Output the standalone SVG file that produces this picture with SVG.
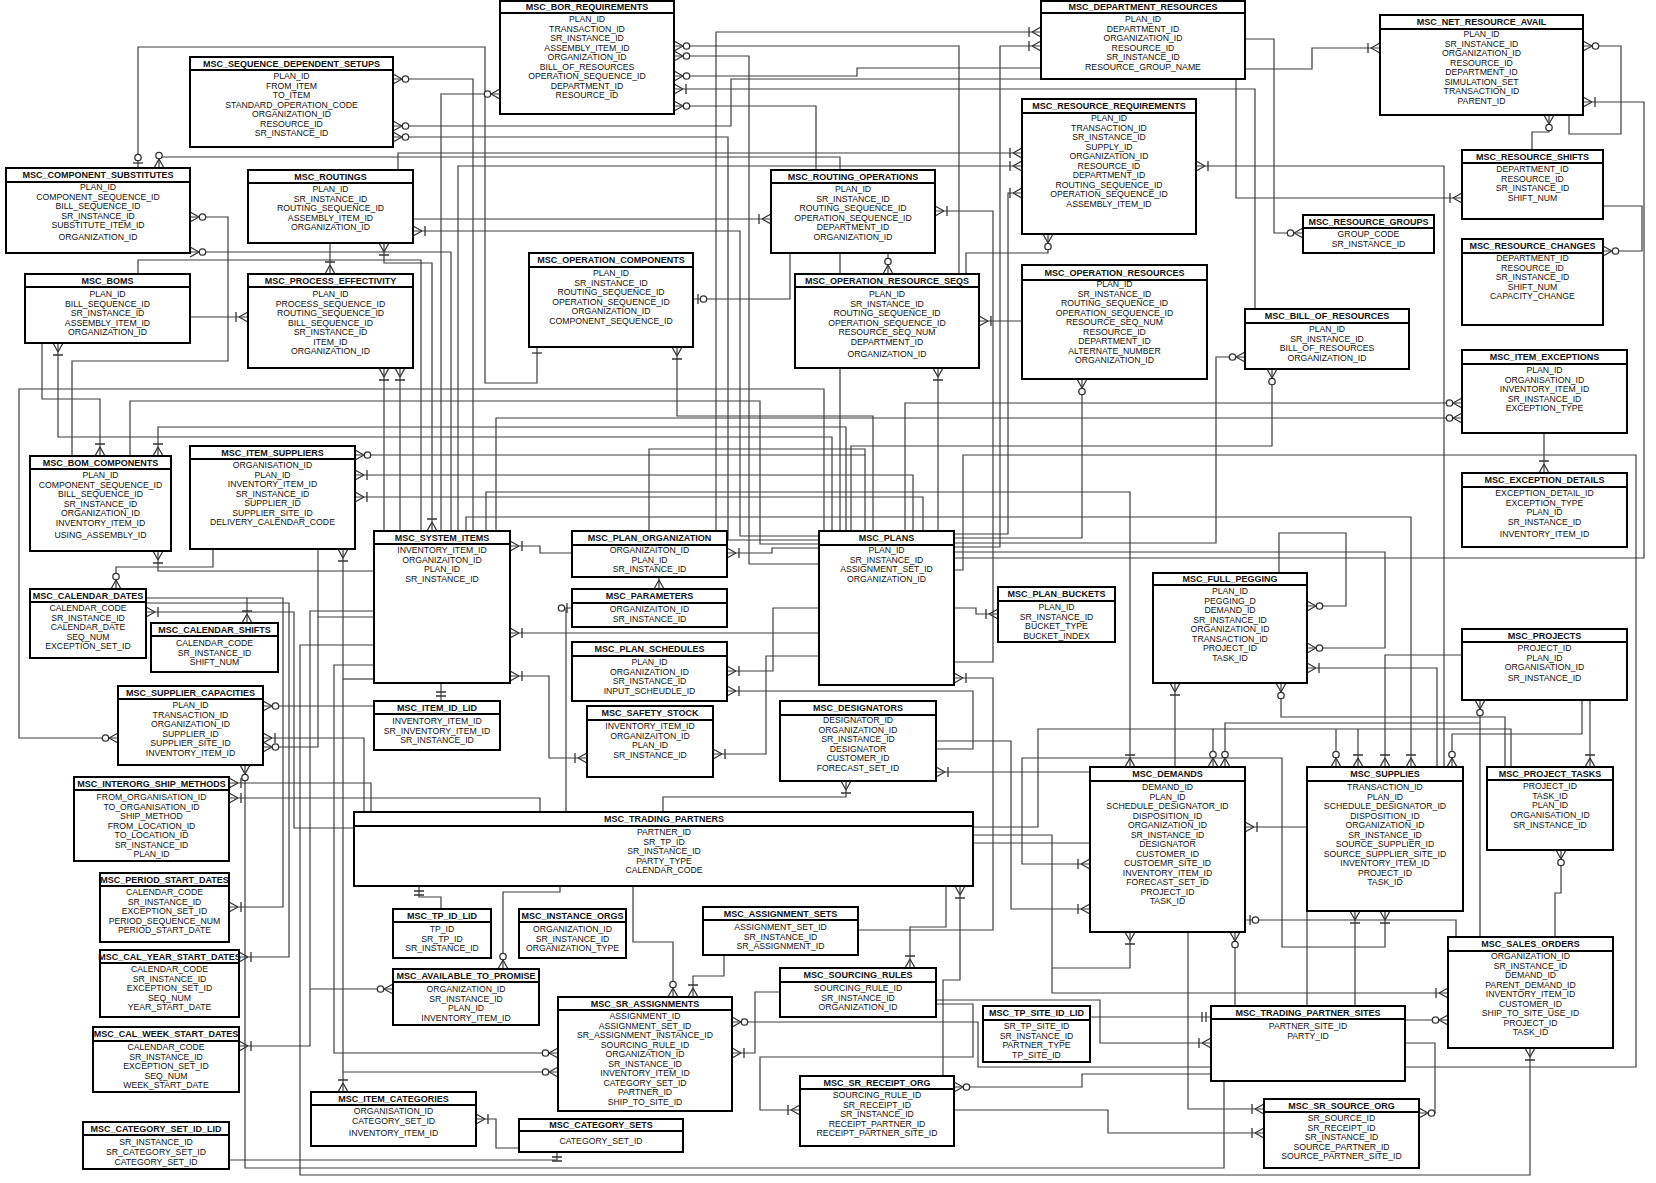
<svg xmlns="http://www.w3.org/2000/svg" width="1656" height="1183" viewBox="0 0 1656 1183">
<style>
.n rect{fill:#fff;stroke:#000;stroke-width:2}
.n line{stroke:#000;stroke-width:2}
.n text{font-family:"Liberation Sans",Arial,sans-serif;text-anchor:middle;fill:#111}
.t{font-size:9px;font-weight:bold}
.f{font-size:8.7px}
.c path{fill:none;stroke:#3c3c3c;stroke-width:1.2}
.m{fill:none;stroke:#333;stroke-width:1.3}
.mc{fill:#fff;stroke:#333;stroke-width:1.3}
</style>
<defs>
<marker id="mb" viewBox="-17 -8 18 16" refX="0" refY="0" markerWidth="18" markerHeight="16" markerUnits="userSpaceOnUse" orient="auto-start-reverse"><path class="m" d="M-9 0L0 -5M-9 0L0 5M-12 -5V5"/></marker>
<marker id="mo" viewBox="-17 -8 18 16" refX="0" refY="0" markerWidth="18" markerHeight="16" markerUnits="userSpaceOnUse" orient="auto-start-reverse"><path class="m" d="M-9 0L0 -5M-9 0L0 5"/><circle class="mc" cx="-12.5" cy="0" r="3.2"/></marker>
<marker id="zo" viewBox="-17 -8 18 16" refX="0" refY="0" markerWidth="18" markerHeight="16" markerUnits="userSpaceOnUse" orient="auto-start-reverse"><path class="m" d="M-5 -5V5"/><circle class="mc" cx="-10.5" cy="0" r="3.2"/></marker>
<marker id="oo" viewBox="-17 -8 18 16" refX="0" refY="0" markerWidth="18" markerHeight="16" markerUnits="userSpaceOnUse" orient="auto-start-reverse"><path class="m" d="M-5 -5V5M-9 -5V5"/></marker>
<marker id="b1" viewBox="-17 -8 18 16" refX="0" refY="0" markerWidth="18" markerHeight="16" markerUnits="userSpaceOnUse" orient="auto-start-reverse"><path class="m" d="M-6 -5V5"/></marker>
</defs>
<rect width="1656" height="1183" fill="#fff"/>
<g id="connectors" class="c">
<path d="M537 347V383H485V47H138V168" marker-start="url(#b1)" marker-end="url(#zo)"/>
<path d="M840 170V157H159V168" marker-end="url(#mo)"/>
<path d="M473 531V79H393" marker-end="url(#mo)"/>
<path d="M1041 79H731V126H393" marker-end="url(#mo)"/>
<path d="M819 540H728V137H393" marker-end="url(#mo)"/>
<path d="M441 531V94H500" marker-end="url(#mo)"/>
<path d="M413 219H771" marker-end="url(#mb)"/>
<path d="M819 536H740V231H413" marker-end="url(#mb)"/>
<path d="M72 456V361H228V217H190" marker-end="url(#mo)"/>
<path d="M451 531V252H190" marker-end="url(#mo)"/>
<path d="M384 243V263H432V531" marker-start="url(#mb)" marker-end="url(#mb)"/>
<path d="M138 274V260H421V531"/>
<path d="M330 243V274" marker-end="url(#mb)"/>
<path d="M959 274V46H674" marker-end="url(#mo)"/>
<path d="M819 564H749V56H674" marker-end="url(#mo)"/>
<path d="M1041 68H857V76H674" marker-end="url(#mo)"/>
<path d="M1255 309V89H674" marker-end="url(#mb)"/>
<path d="M816 170V106H674" marker-end="url(#mo)"/>
<path d="M716 531V32H1041" marker-end="url(#mb)"/>
<path d="M954 547H1000V46H1041" marker-end="url(#mb)"/>
<path d="M398 170V153H1022" marker-end="url(#mb)"/>
<path d="M458 531V166H1022" marker-end="url(#mb)"/>
<path d="M954 534H1008V193H1022" marker-end="url(#mb)"/>
<path d="M888 253V274" marker-end="url(#mo)"/>
<path d="M840 253V274M840 368V531"/>
<path d="M790 253V299H693" marker-end="url(#zo)"/>
<path d="M954 662H993V211H935" marker-end="url(#mb)"/>
<path d="M966 274V253H1048V234" marker-end="url(#mo)"/>
<path d="M1444 767V166H1196" marker-end="url(#mb)"/>
<path d="M1245 39H1274V233H1303" marker-end="url(#mo)"/>
<path d="M1245 69H1312V48H1380" marker-end="url(#mb)"/>
<path d="M1569 115V134H1621V46H1583" marker-end="url(#mo)"/>
<path d="M954 558H1644V102H1583" marker-end="url(#mb)"/>
<path d="M1532 150V132H1549V115" marker-end="url(#mo)"/>
<path d="M1603 206H1642V251H1603" marker-end="url(#mo)"/>
<path d="M1236 79V198H1462" marker-end="url(#mb)"/>
<path d="M190 317H248" marker-end="url(#mb)"/>
<path d="M58 343V437H832V531" marker-start="url(#mb)"/>
<path d="M42 343V399H100V456" marker-end="url(#mb)"/>
<path d="M824 531V389H19V738H118" marker-end="url(#mo)"/>
<path d="M130 456V401H760V544H819"/>
<path d="M846 531V427H158V456" marker-end="url(#mb)"/>
<path d="M374 571H158V551" marker-end="url(#mb)"/>
<path d="M213 549V567H116V589" marker-end="url(#mo)"/>
<path d="M865 531V455H355" marker-end="url(#mo)"/>
<path d="M913 531V475H355" marker-end="url(#mb)"/>
<path d="M923 531V497H355" marker-end="url(#mb)"/>
<path d="M343 549V1092" marker-start="url(#mb)" marker-end="url(#mb)"/>
<path d="M374 617H318V747H263" marker-end="url(#mo)"/>
<path d="M318 549V617"/>
<path d="M384 531V368" marker-end="url(#mb)"/>
<path d="M400 531V368" marker-end="url(#mb)"/>
<path d="M572 553H540V546H510" marker-end="url(#mb)"/>
<path d="M873 531V416H677V347" marker-end="url(#mb)"/>
<path d="M1022 321H979" marker-end="url(#mb)"/>
<path d="M938 531V368" marker-end="url(#mb)"/>
<path d="M954 538H1082V379" marker-end="url(#mo)"/>
<path d="M819 548H772V553H727" marker-end="url(#mb)"/>
<path d="M659 577V589" marker-end="url(#mb)"/>
<path d="M566 812V608H572" marker-end="url(#zo)"/>
<path d="M819 633H510" marker-end="url(#mb)"/>
<path d="M819 608H773V671H727" marker-end="url(#mb)"/>
<path d="M819 656H766V754H713" marker-end="url(#mb)"/>
<path d="M936 749H973V691H727" marker-end="url(#mb)"/>
<path d="M510 676H549V758H587" marker-start="url(#mb)" marker-end="url(#mb)"/>
<path d="M954 608H976V614H998" marker-end="url(#mb)"/>
<path d="M858 930H993V678H954" marker-end="url(#mb)"/>
<path d="M936 741H1011V909H1090" marker-end="url(#mb)"/>
<path d="M1090 772H936" marker-end="url(#mb)"/>
<path d="M663 812V797H846V781" marker-end="url(#mb)"/>
<path d="M973 827H1038V729H1213V767" marker-end="url(#mo)"/>
<path d="M1213 729H1511V767"/>
<path d="M973 835H1052V968H1130V932" marker-end="url(#mb)"/>
<path d="M973 843H1090"/>
<path d="M1090 864H1022V758H1282V947H1385V911" marker-start="url(#mb)" marker-end="url(#mb)"/>
<path d="M1279 573V533H1346V606H1307" marker-end="url(#mo)"/>
<path d="M954 552H1385V648H1307" marker-end="url(#mo)"/>
<path d="M1462 655H1385V767" marker-end="url(#mb)"/>
<path d="M1437 767V668H1307" marker-end="url(#mb)"/>
<path d="M1175 767V683" marker-end="url(#mb)"/>
<path d="M1505 767V717H1281V683" marker-end="url(#mo)"/>
<path d="M1480 937V700" marker-end="url(#mo)"/>
<path d="M1480 723H1225V767" marker-end="url(#mo)"/>
<path d="M1582 700V734H1452V767" marker-end="url(#mo)"/>
<path d="M1590 700V767" marker-end="url(#mb)"/>
<path d="M1336 729V767" marker-end="url(#mo)"/>
<path d="M1358 729V767" marker-end="url(#mb)"/>
<path d="M466 531V517H1411V767" marker-end="url(#mb)"/>
<path d="M486 531V492H1130V767" marker-end="url(#mb)"/>
<path d="M1307 827H1245" marker-end="url(#mb)"/>
<path d="M1456 937V920H1245" marker-end="url(#zo)"/>
<path d="M1235 1006V932" marker-end="url(#mo)"/>
<path d="M1188 932V1109H1264" marker-end="url(#mb)"/>
<path d="M1355 1006V911" marker-end="url(#mb)"/>
<path d="M1307 911V1006"/>
<path d="M1052 968V993H1448" marker-end="url(#mb)"/>
<path d="M1405 1020H1448" marker-end="url(#mo)"/>
<path d="M1090 1017H1211" marker-end="url(#oo)"/>
<path d="M936 1000H1100V1043H1211" marker-end="url(#mb)"/>
<path d="M1211 1067H978V1022H732" marker-end="url(#mo)"/>
<path d="M1211 1074H1082V1087H954" marker-end="url(#mo)"/>
<path d="M1405 1043H1435V1113H1419" marker-end="url(#mo)"/>
<path d="M1405 1067H1636V455H963V570H954"/>
<path d="M245 765V1168H1224V1081" marker-start="url(#mo)"/>
<path d="M374 645H300V1175H1530V1048" marker-end="url(#mb)"/>
<path d="M954 1110H1108V1133H1264" marker-end="url(#mb)"/>
<path d="M1555 937V893H1561V850" marker-end="url(#mo)"/>
<path d="M960 886V980H943V1076" marker-start="url(#mb)"/>
<path d="M946 886V927H910V968" marker-end="url(#mb)"/>
<path d="M633 886V942H673V997" marker-end="url(#mo)"/>
<path d="M724 955V976H693V997" marker-end="url(#mb)"/>
<path d="M780 992H755V1053H732" marker-end="url(#mb)"/>
<path d="M936 1004H973V1057H760V1110H800" marker-end="url(#mb)"/>
<path d="M374 665H334V1053H558" marker-end="url(#mo)"/>
<path d="M343 1072H558" marker-end="url(#mo)"/>
<path d="M519 1148H496V1119H476" marker-end="url(#mb)"/>
<path d="M229 1160H557V1152" marker-end="url(#oo)"/>
<path d="M560 886V892H503V969" marker-end="url(#mo)"/>
<path d="M441 909V897H419V886" marker-end="url(#oo)"/>
<path d="M146 598H283V907H229" marker-end="url(#mb)"/>
<path d="M146 603H289V957H239" marker-end="url(#mb)"/>
<path d="M374 611H310V1046H239" marker-end="url(#mb)"/>
<path d="M310 989H393" marker-end="url(#mo)"/>
<path d="M354 828H294V612H146" marker-end="url(#mb)"/>
<path d="M247 598V623" marker-end="url(#mb)"/>
<path d="M371 812V783H229" marker-end="url(#mb)"/>
<path d="M540 812V798H229" marker-end="url(#mb)"/>
<path d="M374 706H263" marker-end="url(#mo)"/>
<path d="M364 812V738H263" marker-end="url(#mb)"/>
<path d="M441 683V701" marker-end="url(#oo)"/>
<path d="M374 679H343"/>
<path d="M649 531V449H865V455"/>
<path d="M496 531V418H1462" marker-end="url(#mo)"/>
<path d="M905 531V403H1462" marker-end="url(#mo)"/>
<path d="M954 543H1216V357H1245" marker-end="url(#mo)"/>
<path d="M851 531V446H1272V369" marker-end="url(#mo)"/>
<path d="M1544 433V473" marker-end="url(#mb)"/>
</g>
<g id="n_bor_requirements" class="n"><rect x="500" y="1" width="174" height="113"/><line x1="500" y1="13" x2="674" y2="13"/><text class="t" x="587" y="10.2">MSC_BOR_REQUIREMENTS</text><text class="f"><tspan x="587" y="22">PLAN_ID</tspan><tspan x="587" y="31.6">TRANSACTION_ID</tspan><tspan x="587" y="41.1">SR_INSTANCE_ID</tspan><tspan x="587" y="50.7">ASSEMBLY_ITEM_ID</tspan><tspan x="587" y="60.2">ORGANIZATION_ID</tspan><tspan x="587" y="69.8">BILL_OF_RESOURCES</tspan><tspan x="587" y="79.3">OPERATION_SEQUENCE_ID</tspan><tspan x="587" y="88.9">DEPARTMENT_ID</tspan><tspan x="587" y="98.4">RESOURCE_ID</tspan></text></g>
<g id="n_department_resources" class="n"><rect x="1041" y="1" width="204" height="78"/><line x1="1041" y1="13" x2="1245" y2="13"/><text class="t" x="1143" y="10.2">MSC_DEPARTMENT_RESOURCES</text><text class="f"><tspan x="1143" y="22">PLAN_ID</tspan><tspan x="1143" y="31.6">DEPARTMENT_ID</tspan><tspan x="1143" y="41.1">ORGANIZATION_ID</tspan><tspan x="1143" y="50.7">RESOURCE_ID</tspan><tspan x="1143" y="60.2">SR_INSTANCE_ID</tspan><tspan x="1143" y="69.8">RESOURCE_GROUP_NAME</tspan></text></g>
<g id="n_sequence_dependent_setups" class="n"><rect x="190" y="57" width="203" height="90"/><line x1="190" y1="70" x2="393" y2="70"/><text class="t" x="291.5" y="66.7">MSC_SEQUENCE_DEPENDENT_SETUPS</text><text class="f"><tspan x="291.5" y="79">PLAN_ID</tspan><tspan x="291.5" y="88.6">FROM_ITEM</tspan><tspan x="291.5" y="98.1">TO_ITEM</tspan><tspan x="291.5" y="107.7">STANDARD_OPERATION_CODE</tspan><tspan x="291.5" y="117.2">ORGANIZATION_ID</tspan><tspan x="291.5" y="126.8">RESOURCE_ID</tspan><tspan x="291.5" y="136.3">SR_INSTANCE_ID</tspan></text></g>
<g id="n_net_resource_avail" class="n"><rect x="1380" y="15" width="203" height="100"/><line x1="1380" y1="29" x2="1583" y2="29"/><text class="t" x="1481.5" y="25.2">MSC_NET_RESOURCE_AVAIL</text><text class="f"><tspan x="1481.5" y="37">PLAN_ID</tspan><tspan x="1481.5" y="46.6">SR_INSTANCE_ID</tspan><tspan x="1481.5" y="56.1">ORGANIZATION_ID</tspan><tspan x="1481.5" y="65.7">RESOURCE_ID</tspan><tspan x="1481.5" y="75.2">DEPARTMENT_ID</tspan><tspan x="1481.5" y="84.8">SIMULATION_SET</tspan><tspan x="1481.5" y="94.3">TRANSACTION_ID</tspan><tspan x="1481.5" y="103.9">PARENT_ID</tspan></text></g>
<g id="n_resource_requirements" class="n"><rect x="1022" y="99" width="174" height="135"/><line x1="1022" y1="113" x2="1196" y2="113"/><text class="t" x="1109" y="109.2">MSC_RESOURCE_REQUIREMENTS</text><text class="f"><tspan x="1109" y="121">PLAN_ID</tspan><tspan x="1109" y="130.6">TRANSACTION_ID</tspan><tspan x="1109" y="140.1">SR_INSTANCE_ID</tspan><tspan x="1109" y="149.7">SUPPLY_ID</tspan><tspan x="1109" y="159.2">ORGANIZATION_ID</tspan><tspan x="1109" y="168.8">RESOURCE_ID</tspan><tspan x="1109" y="178.3">DEPARTMENT_ID</tspan><tspan x="1109" y="187.9">ROUTING_SEQUENCE_ID</tspan><tspan x="1109" y="197.4">OPERATION_SEQUENCE_ID</tspan><tspan x="1109" y="207">ASSEMBLY_ITEM_ID</tspan></text></g>
<g id="n_resource_shifts" class="n"><rect x="1462" y="150" width="141" height="69"/><line x1="1462" y1="163" x2="1603" y2="163"/><text class="t" x="1532.5" y="159.7">MSC_RESOURCE_SHIFTS</text><text class="f"><tspan x="1532.5" y="172">DEPARTMENT_ID</tspan><tspan x="1532.5" y="181.6">RESOURCE_ID</tspan><tspan x="1532.5" y="191.1">SR_INSTANCE_ID</tspan><tspan x="1532.5" y="200.7">SHIFT_NUM</tspan></text></g>
<g id="n_component_substitutes" class="n"><rect x="6" y="168" width="184" height="85"/><line x1="6" y1="182" x2="190" y2="182"/><text class="t" x="98" y="178.2">MSC_COMPONENT_SUBSTITUTES</text><text class="f"><tspan x="98" y="190">PLAN_ID</tspan><tspan x="98" y="199.6">COMPONENT_SEQUENCE_ID</tspan><tspan x="98" y="209.1">BILL_SEQUENCE_ID</tspan><tspan x="98" y="218.7">SR_INSTANCE_ID</tspan><tspan x="98" y="228.2">SUBSTITUTE_ITEM_ID</tspan><tspan x="98" y="240">ORGANIZATION_ID</tspan></text></g>
<g id="n_routings" class="n"><rect x="248" y="170" width="165" height="73"/><line x1="248" y1="183" x2="413" y2="183"/><text class="t" x="330.5" y="179.7">MSC_ROUTINGS</text><text class="f"><tspan x="330.5" y="192">PLAN_ID</tspan><tspan x="330.5" y="201.6">SR_INSTANCE_ID</tspan><tspan x="330.5" y="211.1">ROUTING_SEQUENCE_ID</tspan><tspan x="330.5" y="220.7">ASSEMBLY_ITEM_ID</tspan><tspan x="330.5" y="230.2">ORGANIZATION_ID</tspan></text></g>
<g id="n_routing_operations" class="n"><rect x="771" y="170" width="164" height="83"/><line x1="771" y1="183" x2="935" y2="183"/><text class="t" x="853" y="179.7">MSC_ROUTING_OPERATIONS</text><text class="f"><tspan x="853" y="192">PLAN_ID</tspan><tspan x="853" y="201.6">SR_INSTANCE_ID</tspan><tspan x="853" y="211.1">ROUTING_SEQUENCE_ID</tspan><tspan x="853" y="220.7">OPERATION_SEQUENCE_ID</tspan><tspan x="853" y="230.2">DEPARTMENT_ID</tspan><tspan x="853" y="239.8">ORGANIZATION_ID</tspan></text></g>
<g id="n_resource_groups" class="n"><rect x="1303" y="215" width="131" height="38"/><line x1="1303" y1="228" x2="1434" y2="228"/><text class="t" x="1368.5" y="224.7">MSC_RESOURCE_GROUPS</text><text class="f"><tspan x="1368.5" y="237">GROUP_CODE</tspan><tspan x="1368.5" y="246.6">SR_INSTANCE_ID</tspan></text></g>
<g id="n_resource_changes" class="n"><rect x="1462" y="239" width="141" height="86"/><line x1="1462" y1="253" x2="1603" y2="253"/><text class="t" x="1532.5" y="249.2">MSC_RESOURCE_CHANGES</text><text class="f"><tspan x="1532.5" y="261">DEPARTMENT_ID</tspan><tspan x="1532.5" y="270.6">RESOURCE_ID</tspan><tspan x="1532.5" y="280.1">SR_INSTANCE_ID</tspan><tspan x="1532.5" y="289.7">SHIFT_NUM</tspan><tspan x="1532.5" y="299.2">CAPACITY_CHANGE</tspan></text></g>
<g id="n_operation_components" class="n"><rect x="529" y="253" width="164" height="94"/><line x1="529" y1="267" x2="693" y2="267"/><text class="t" x="611" y="263.2">MSC_OPERATION_COMPONENTS</text><text class="f"><tspan x="611" y="276">PLAN_ID</tspan><tspan x="611" y="285.6">SR_INSTANCE_ID</tspan><tspan x="611" y="295.1">ROUTING_SEQUENCE_ID</tspan><tspan x="611" y="304.7">OPERATION_SEQUENCE_ID</tspan><tspan x="611" y="314.2">ORGANIZATION_ID</tspan><tspan x="611" y="323.8">COMPONENT_SEQUENCE_ID</tspan></text></g>
<g id="n_boms" class="n"><rect x="25" y="274" width="165" height="69"/><line x1="25" y1="287" x2="190" y2="287"/><text class="t" x="107.5" y="283.7">MSC_BOMS</text><text class="f"><tspan x="107.5" y="297">PLAN_ID</tspan><tspan x="107.5" y="306.6">BILL_SEQUENCE_ID</tspan><tspan x="107.5" y="316.1">SR_INSTANCE_ID</tspan><tspan x="107.5" y="325.7">ASSEMBLY_ITEM_ID</tspan><tspan x="107.5" y="335.2">ORGANIZATION_ID</tspan></text></g>
<g id="n_process_effectivity" class="n"><rect x="248" y="274" width="165" height="94"/><line x1="248" y1="287" x2="413" y2="287"/><text class="t" x="330.5" y="283.7">MSC_PROCESS_EFFECTIVITY</text><text class="f"><tspan x="330.5" y="297">PLAN_ID</tspan><tspan x="330.5" y="306.6">PROCESS_SEQUENCE_ID</tspan><tspan x="330.5" y="316.1">ROUTING_SEQUENCE_ID</tspan><tspan x="330.5" y="325.7">BILL_SEQUENCE_ID</tspan><tspan x="330.5" y="335.2">SR_INSTANCE_ID</tspan><tspan x="330.5" y="344.8">ITEM_ID</tspan><tspan x="330.5" y="354.3">ORGANIZATION_ID</tspan></text></g>
<g id="n_operation_resource_seqs" class="n"><rect x="795" y="274" width="184" height="94"/><line x1="795" y1="287" x2="979" y2="287"/><text class="t" x="887" y="283.7">MSC_OPERATION_RESOURCE_SEQS</text><text class="f"><tspan x="887" y="297">PLAN_ID</tspan><tspan x="887" y="306.6">SR_INSTANCE_ID</tspan><tspan x="887" y="316.1">ROUTING_SEQUENCE_ID</tspan><tspan x="887" y="325.7">OPERATION_SEQUENCE_ID</tspan><tspan x="887" y="335.2">RESOURCE_SEQ_NUM</tspan><tspan x="887" y="344.8">DEPARTMENT_ID</tspan><tspan x="887" y="357">ORGANIZATION_ID</tspan></text></g>
<g id="n_operation_resources" class="n"><rect x="1022" y="265" width="185" height="114"/><line x1="1022" y1="280" x2="1207" y2="280"/><text class="t" x="1114.5" y="275.7">MSC_OPERATION_RESOURCES</text><text class="f"><tspan x="1114.5" y="287">PLAN_ID</tspan><tspan x="1114.5" y="296.6">SR_INSTANCE_ID</tspan><tspan x="1114.5" y="306.1">ROUTING_SEQUENCE_ID</tspan><tspan x="1114.5" y="315.7">OPERATION_SEQUENCE_ID</tspan><tspan x="1114.5" y="325.2">RESOURCE_SEQ_NUM</tspan><tspan x="1114.5" y="334.8">RESOURCE_ID</tspan><tspan x="1114.5" y="344.3">DEPARTMENT_ID</tspan><tspan x="1114.5" y="353.9">ALTERNATE_NUMBER</tspan><tspan x="1114.5" y="363.4">ORGANIZATION_ID</tspan></text></g>
<g id="n_bill_of_resources" class="n"><rect x="1245" y="309" width="164" height="60"/><line x1="1245" y1="323" x2="1409" y2="323"/><text class="t" x="1327" y="319.2">MSC_BILL_OF_RESOURCES</text><text class="f"><tspan x="1327" y="332">PLAN_ID</tspan><tspan x="1327" y="341.6">SR_INSTANCE_ID</tspan><tspan x="1327" y="351.1">BILL_OF_RESOURCES</tspan><tspan x="1327" y="360.7">ORGANIZATION_ID</tspan></text></g>
<g id="n_item_exceptions" class="n"><rect x="1462" y="350" width="165" height="83"/><line x1="1462" y1="364" x2="1627" y2="364"/><text class="t" x="1544.5" y="360.2">MSC_ITEM_EXCEPTIONS</text><text class="f"><tspan x="1544.5" y="373">PLAN_ID</tspan><tspan x="1544.5" y="382.6">ORGANISATION_ID</tspan><tspan x="1544.5" y="392.1">INVENTORY_ITEM_ID</tspan><tspan x="1544.5" y="401.7">SR_INSTANCE_ID</tspan><tspan x="1544.5" y="411.2">EXCEPTION_TYPE</tspan></text></g>
<g id="n_exception_details" class="n"><rect x="1462" y="473" width="165" height="74"/><line x1="1462" y1="487" x2="1627" y2="487"/><text class="t" x="1544.5" y="483.2">MSC_EXCEPTION_DETAILS</text><text class="f"><tspan x="1544.5" y="496">EXCEPTION_DETAIL_ID</tspan><tspan x="1544.5" y="505.6">EXCEPTION_TYPE</tspan><tspan x="1544.5" y="515.1">PLAN_ID</tspan><tspan x="1544.5" y="524.7">SR_INSTANCE_ID</tspan><tspan x="1544.5" y="537">INVENTORY_ITEM_ID</tspan></text></g>
<g id="n_bom_components" class="n"><rect x="30" y="456" width="141" height="95"/><line x1="30" y1="469" x2="171" y2="469"/><text class="t" x="100.5" y="465.7">MSC_BOM_COMPONENTS</text><text class="f"><tspan x="100.5" y="478">PLAN_ID</tspan><tspan x="100.5" y="487.6">COMPONENT_SEQUENCE_ID</tspan><tspan x="100.5" y="497.1">BILL_SEQUENCE_ID</tspan><tspan x="100.5" y="506.7">SR_INSTANCE_ID</tspan><tspan x="100.5" y="516.2">ORGANIZATION_ID</tspan><tspan x="100.5" y="525.8">INVENTORY_ITEM_ID</tspan><tspan x="100.5" y="538">USING_ASSEMBLY_ID</tspan></text></g>
<g id="n_item_suppliers" class="n"><rect x="190" y="446" width="165" height="103"/><line x1="190" y1="459" x2="355" y2="459"/><text class="t" x="272.5" y="455.7">MSC_ITEM_SUPPLIERS</text><text class="f"><tspan x="272.5" y="468">ORGANISATION_ID</tspan><tspan x="272.5" y="477.6">PLAN_ID</tspan><tspan x="272.5" y="487.1">INVENTORY_ITEM_ID</tspan><tspan x="272.5" y="496.7">SR_INSTANCE_ID</tspan><tspan x="272.5" y="506.2">SUPPLIER_ID</tspan><tspan x="272.5" y="515.8">SUPPLIER_SITE_ID</tspan><tspan x="272.5" y="525.3">DELIVERY_CALENDAR_CODE</tspan></text></g>
<g id="n_system_items" class="n"><rect x="374" y="531" width="136" height="152"/><line x1="374" y1="544" x2="510" y2="544"/><text class="t" x="442" y="540.7">MSC_SYSTEM_ITEMS</text><text class="f"><tspan x="442" y="553">INVENTORY_ITEM_ID</tspan><tspan x="442" y="562.6">ORGANIZAITON_ID</tspan><tspan x="442" y="572.1">PLAN_ID</tspan><tspan x="442" y="581.7">SR_INSTANCE_ID</tspan></text></g>
<g id="n_plan_organization" class="n"><rect x="572" y="531" width="155" height="46"/><line x1="572" y1="545" x2="727" y2="545"/><text class="t" x="649.5" y="541.2">MSC_PLAN_ORGANIZATION</text><text class="f"><tspan x="649.5" y="553">ORGANIZAITON_ID</tspan><tspan x="649.5" y="562.6">PLAN_ID</tspan><tspan x="649.5" y="572.1">SR_INSTANCE_ID</tspan></text></g>
<g id="n_plans" class="n"><rect x="819" y="531" width="135" height="154"/><line x1="819" y1="545" x2="954" y2="545"/><text class="t" x="886.5" y="541.2">MSC_PLANS</text><text class="f"><tspan x="886.5" y="553">PLAN_ID</tspan><tspan x="886.5" y="562.6">SR_INSTANCE_ID</tspan><tspan x="886.5" y="572.1">ASSIGNMENT_SET_ID</tspan><tspan x="886.5" y="581.7">ORGANIZATION_ID</tspan></text></g>
<g id="n_full_pegging" class="n"><rect x="1153" y="573" width="154" height="110"/><line x1="1153" y1="585" x2="1307" y2="585"/><text class="t" x="1230" y="582.2">MSC_FULL_PEGGING</text><text class="f"><tspan x="1230" y="594">PLAN_ID</tspan><tspan x="1230" y="603.6">PEGGING_D</tspan><tspan x="1230" y="613.1">DEMAND_ID</tspan><tspan x="1230" y="622.7">SR_INSTANCE_ID</tspan><tspan x="1230" y="632.2">ORGANIZATION_ID</tspan><tspan x="1230" y="641.8">TRANSACTION_ID</tspan><tspan x="1230" y="651.3">PROJECT_ID</tspan><tspan x="1230" y="660.9">TASK_ID</tspan></text></g>
<g id="n_plan_buckets" class="n"><rect x="998" y="587" width="117" height="55"/><line x1="998" y1="601" x2="1115" y2="601"/><text class="t" x="1056.5" y="597.2">MSC_PLAN_BUCKETS</text><text class="f"><tspan x="1056.5" y="610">PLAN_ID</tspan><tspan x="1056.5" y="619.6">SR_INSTANCE_ID</tspan><tspan x="1056.5" y="629.1">BUCKET_TYPE</tspan><tspan x="1056.5" y="638.7">BUCKET_INDEX</tspan></text></g>
<g id="n_parameters" class="n"><rect x="572" y="589" width="155" height="38"/><line x1="572" y1="603" x2="727" y2="603"/><text class="t" x="649.5" y="599.2">MSC_PARAMETERS</text><text class="f"><tspan x="649.5" y="612">ORGANIZAITON_ID</tspan><tspan x="649.5" y="621.6">SR_INSTANCE_ID</tspan></text></g>
<g id="n_calendar_dates" class="n"><rect x="30" y="589" width="116" height="69"/><line x1="30" y1="602" x2="146" y2="602"/><text class="t" x="88" y="598.7">MSC_CALENDAR_DATES</text><text class="f"><tspan x="88" y="611">CALENDAR_CODE</tspan><tspan x="88" y="620.6">SR_INSTANCE_ID</tspan><tspan x="88" y="630.1">CALENDAR_DATE</tspan><tspan x="88" y="639.7">SEQ_NUM</tspan><tspan x="88" y="649.2">EXCEPTION_SET_ID</tspan></text></g>
<g id="n_calendar_shifts" class="n"><rect x="151" y="623" width="127" height="49"/><line x1="151" y1="636" x2="278" y2="636"/><text class="t" x="214.5" y="632.7">MSC_CALENDAR_SHIFTS</text><text class="f"><tspan x="214.5" y="646">CALENDAR_CODE</tspan><tspan x="214.5" y="655.6">SR_INSTANCE_ID</tspan><tspan x="214.5" y="665.1">SHIFT_NUM</tspan></text></g>
<g id="n_projects" class="n"><rect x="1462" y="629" width="165" height="71"/><line x1="1462" y1="642" x2="1627" y2="642"/><text class="t" x="1544.5" y="638.7">MSC_PROJECTS</text><text class="f"><tspan x="1544.5" y="651">PROJECT_ID</tspan><tspan x="1544.5" y="660.6">PLAN_ID</tspan><tspan x="1544.5" y="670.1">ORGANISATION_ID</tspan><tspan x="1544.5" y="681">SR_INSTANCE_ID</tspan></text></g>
<g id="n_plan_schedules" class="n"><rect x="572" y="642" width="155" height="59"/><line x1="572" y1="656" x2="727" y2="656"/><text class="t" x="649.5" y="652.2">MSC_PLAN_SCHEDULES</text><text class="f"><tspan x="649.5" y="665">PLAN_ID</tspan><tspan x="649.5" y="674.6">ORGANIZATION_ID</tspan><tspan x="649.5" y="684.1">SR_INSTANCE_ID</tspan><tspan x="649.5" y="693.7">INPUT_SCHEUDLE_ID</tspan></text></g>
<g id="n_supplier_capacities" class="n"><rect x="118" y="686" width="145" height="79"/><line x1="118" y1="699" x2="263" y2="699"/><text class="t" x="190.5" y="695.7">MSC_SUPPLIER_CAPACITIES</text><text class="f"><tspan x="190.5" y="708">PLAN_ID</tspan><tspan x="190.5" y="717.6">TRANSACTION_ID</tspan><tspan x="190.5" y="727.1">ORGANIZATION_ID</tspan><tspan x="190.5" y="736.7">SUPPLIER_ID</tspan><tspan x="190.5" y="746.2">SUPPLIER_SITE_ID</tspan><tspan x="190.5" y="755.8">INVENTORY_ITEM_ID</tspan></text></g>
<g id="n_item_id_lid" class="n"><rect x="374" y="701" width="126" height="49"/><line x1="374" y1="714" x2="500" y2="714"/><text class="t" x="437" y="710.7">MSC_ITEM_ID_LID</text><text class="f"><tspan x="437" y="724">INVENTORY_ITEM_ID</tspan><tspan x="437" y="733.6">SR_INVENTORY_ITEM_ID</tspan><tspan x="437" y="743.1">SR_INSTANCE_ID</tspan></text></g>
<g id="n_designators" class="n"><rect x="780" y="701" width="156" height="80"/><line x1="780" y1="715" x2="936" y2="715"/><text class="t" x="858" y="711.2">MSC_DESIGNATORS</text><text class="f"><tspan x="858" y="723">DESIGNATOR_ID</tspan><tspan x="858" y="732.6">ORGANIZATION_ID</tspan><tspan x="858" y="742.1">SR_INSTANCE_ID</tspan><tspan x="858" y="751.7">DESIGNATOR</tspan><tspan x="858" y="761.2">CUSTOMER_ID</tspan><tspan x="858" y="770.8">FORECAST_SET_ID</tspan></text></g>
<g id="n_safety_stock" class="n"><rect x="587" y="706" width="126" height="71"/><line x1="587" y1="720" x2="713" y2="720"/><text class="t" x="650" y="716.2">MSC_SAFETY_STOCK</text><text class="f"><tspan x="650" y="729">INVENTORY_ITEM_ID</tspan><tspan x="650" y="738.6">ORGANIZAITON_ID</tspan><tspan x="650" y="748.1">PLAN_ID</tspan><tspan x="650" y="757.7">SR_INSTANCE_ID</tspan></text></g>
<g id="n_demands" class="n"><rect x="1090" y="767" width="155" height="165"/><line x1="1090" y1="781" x2="1245" y2="781"/><text class="t" x="1167.5" y="777.2">MSC_DEMANDS</text><text class="f"><tspan x="1167.5" y="790">DEMAND_ID</tspan><tspan x="1167.5" y="799.5">PLAN_ID</tspan><tspan x="1167.5" y="809">SCHEDULE_DESIGNATOR_ID</tspan><tspan x="1167.5" y="818.5">DISPOSITION_ID</tspan><tspan x="1167.5" y="828">ORGANIZATION_ID</tspan><tspan x="1167.5" y="837.5">SR_INSTANCE_ID</tspan><tspan x="1167.5" y="847">DESIGNATOR</tspan><tspan x="1167.5" y="856.5">CUSTOMER_ID</tspan><tspan x="1167.5" y="866">CUSTOEMR_SITE_ID</tspan><tspan x="1167.5" y="875.5">INVENTORY_ITEM_ID</tspan><tspan x="1167.5" y="885">FORECAST_SET_ID</tspan><tspan x="1167.5" y="894.5">PROJECT_ID</tspan><tspan x="1167.5" y="904">TASK_ID</tspan></text></g>
<g id="n_supplies" class="n"><rect x="1307" y="767" width="156" height="144"/><line x1="1307" y1="781" x2="1463" y2="781"/><text class="t" x="1385" y="777.2">MSC_SUPPLIES</text><text class="f"><tspan x="1385" y="790">TRANSACTION_ID</tspan><tspan x="1385" y="799.5">PLAN_ID</tspan><tspan x="1385" y="809">SCHEDULE_DESIGNATOR_ID</tspan><tspan x="1385" y="818.5">DISPOSITION_ID</tspan><tspan x="1385" y="828">ORGANIZATION_ID</tspan><tspan x="1385" y="837.5">SR_INSTANCE_ID</tspan><tspan x="1385" y="847">SOURCE_SUPPLIER_ID</tspan><tspan x="1385" y="856.5">SOURCE_SUPPLIER_SITE_ID</tspan><tspan x="1385" y="866">INVENTORY_ITEM_ID</tspan><tspan x="1385" y="875.5">PROJECT_ID</tspan><tspan x="1385" y="885">TASK_ID</tspan></text></g>
<g id="n_project_tasks" class="n"><rect x="1487" y="767" width="126" height="83"/><line x1="1487" y1="780" x2="1613" y2="780"/><text class="t" x="1550" y="776.7">MSC_PROJECT_TASKS</text><text class="f"><tspan x="1550" y="789">PROJECT_ID</tspan><tspan x="1550" y="798.6">TASK_ID</tspan><tspan x="1550" y="808.1">PLAN_ID</tspan><tspan x="1550" y="817.7">ORGANISATION_ID</tspan><tspan x="1550" y="828">SR_INSTANCE_ID</tspan></text></g>
<g id="n_interorg_ship_methods" class="n"><rect x="74" y="777" width="155" height="84"/><line x1="74" y1="790" x2="229" y2="790"/><text class="t" x="151.5" y="786.7">MSC_INTERORG_SHIP_METHODS</text><text class="f"><tspan x="151.5" y="800">FROM_ORGANISATION_ID</tspan><tspan x="151.5" y="809.6">TO_ORGANISATION_ID</tspan><tspan x="151.5" y="819.1">SHIP_METHOD</tspan><tspan x="151.5" y="828.7">FROM_LOCATION_ID</tspan><tspan x="151.5" y="838.2">TO_LOCATION_ID</tspan><tspan x="151.5" y="847.8">SR_INSTANCE_ID</tspan><tspan x="151.5" y="857.3">PLAN_ID</tspan></text></g>
<g id="n_trading_partners" class="n"><rect x="354" y="812" width="619" height="74"/><line x1="354" y1="826" x2="973" y2="826"/><text class="t" x="664" y="822.2">MSC_TRADING_PARTNERS</text><text class="f"><tspan x="664" y="835">PARTNER_ID</tspan><tspan x="664" y="844.6">SR_TP_ID</tspan><tspan x="664" y="854.1">SR_INSTANCE_ID</tspan><tspan x="664" y="863.7">PARTY_TYPE</tspan><tspan x="664" y="873.2">CALENDAR_CODE</tspan></text></g>
<g id="n_period_start_dates" class="n"><rect x="100" y="873" width="129" height="69"/><line x1="100" y1="886" x2="229" y2="886"/><text class="t" x="164.5" y="882.7">MSC_PERIOD_START_DATES</text><text class="f"><tspan x="164.5" y="895">CALENDAR_CODE</tspan><tspan x="164.5" y="904.6">SR_INSTANCE_ID</tspan><tspan x="164.5" y="914.1">EXCEPTION_SET_ID</tspan><tspan x="164.5" y="923.7">PERIOD_SEQUENCE_NUM</tspan><tspan x="164.5" y="933.2">PERIOD_START_DATE</tspan></text></g>
<g id="n_tp_id_lid" class="n"><rect x="393" y="909" width="98" height="49"/><line x1="393" y1="922" x2="491" y2="922"/><text class="t" x="442" y="918.7">MSC_TP_ID_LID</text><text class="f"><tspan x="442" y="932">TP_ID</tspan><tspan x="442" y="941.6">SR_TP_ID</tspan><tspan x="442" y="951.1">SR_INSTANCE_ID</tspan></text></g>
<g id="n_instance_orgs" class="n"><rect x="519" y="909" width="107" height="49"/><line x1="519" y1="922" x2="626" y2="922"/><text class="t" x="572.5" y="918.7">MSC_INSTANCE_ORGS</text><text class="f"><tspan x="572.5" y="932">ORGANIZATION_ID</tspan><tspan x="572.5" y="941.6">SR_INSTANCE_ID</tspan><tspan x="572.5" y="951.1">ORGANIZATION_TYPE</tspan></text></g>
<g id="n_assignment_sets" class="n"><rect x="703" y="907" width="155" height="48"/><line x1="703" y1="920" x2="858" y2="920"/><text class="t" x="780.5" y="916.7">MSC_ASSIGNMENT_SETS</text><text class="f"><tspan x="780.5" y="930">ASSIGNMENT_SET_ID</tspan><tspan x="780.5" y="939.6">SR_INSTANCE_ID</tspan><tspan x="780.5" y="949.1">SR_ASSIGNMENT_ID</tspan></text></g>
<g id="n_sales_orders" class="n"><rect x="1448" y="937" width="165" height="111"/><line x1="1448" y1="951" x2="1613" y2="951"/><text class="t" x="1530.5" y="947.2">MSC_SALES_ORDERS</text><text class="f"><tspan x="1530.5" y="959">ORGANIZATION_ID</tspan><tspan x="1530.5" y="968.6">SR_INSTANCE_ID</tspan><tspan x="1530.5" y="978.1">DEMAND_ID</tspan><tspan x="1530.5" y="987.7">PARENT_DEMAND_ID</tspan><tspan x="1530.5" y="997.2">INVENTORY_ITEM_ID</tspan><tspan x="1530.5" y="1006.8">CUSTOMER_ID</tspan><tspan x="1530.5" y="1016.3">SHIP_TO_SITE_USE_ID</tspan><tspan x="1530.5" y="1025.9">PROJECT_ID</tspan><tspan x="1530.5" y="1035.4">TASK_ID</tspan></text></g>
<g id="n_cal_year_start_dates" class="n"><rect x="100" y="950" width="139" height="67"/><line x1="100" y1="963" x2="239" y2="963"/><text class="t" x="169.5" y="959.7">MSC_CAL_YEAR_START_DATES</text><text class="f"><tspan x="169.5" y="972">CALENDAR_CODE</tspan><tspan x="169.5" y="981.6">SR_INSTANCE_ID</tspan><tspan x="169.5" y="991.1">EXCEPTION_SET_ID</tspan><tspan x="169.5" y="1000.7">SEQ_NUM</tspan><tspan x="169.5" y="1010.2">YEAR_START_DATE</tspan></text></g>
<g id="n_available_to_promise" class="n"><rect x="393" y="969" width="146" height="56"/><line x1="393" y1="982" x2="539" y2="982"/><text class="t" x="466" y="978.7">MSC_AVAILABLE_TO_PROMISE</text><text class="f"><tspan x="466" y="992">ORGANIZATION_ID</tspan><tspan x="466" y="1001.6">SR_INSTANCE_ID</tspan><tspan x="466" y="1011.1">PLAN_ID</tspan><tspan x="466" y="1020.7">INVENTORY_ITEM_ID</tspan></text></g>
<g id="n_sourcing_rules" class="n"><rect x="780" y="968" width="156" height="49"/><line x1="780" y1="982" x2="936" y2="982"/><text class="t" x="858" y="978.2">MSC_SOURCING_RULES</text><text class="f"><tspan x="858" y="991">SOURCING_RULE_ID</tspan><tspan x="858" y="1000.6">SR_INSTANCE_ID</tspan><tspan x="858" y="1010.1">ORGANIZATION_ID</tspan></text></g>
<g id="n_sr_assignments" class="n"><rect x="558" y="997" width="174" height="114"/><line x1="558" y1="1010" x2="732" y2="1010"/><text class="t" x="645" y="1006.7">MSC_SR_ASSIGNMENTS</text><text class="f"><tspan x="645" y="1019">ASSIGNMENT_ID</tspan><tspan x="645" y="1028.6">ASSIGNMENT_SET_ID</tspan><tspan x="645" y="1038.1">SR_ASSIGNMENT_INSTANCE_ID</tspan><tspan x="645" y="1047.7">SOURCING_RULE_ID</tspan><tspan x="645" y="1057.2">ORGANIZATION_ID</tspan><tspan x="645" y="1066.8">SR_INSTANCE_ID</tspan><tspan x="645" y="1076.3">INVENTORY_ITEM_ID</tspan><tspan x="645" y="1085.9">CATEGORY_SET_ID</tspan><tspan x="645" y="1095.4">PARTNER_ID</tspan><tspan x="645" y="1105">SHIP_TO_SITE_ID</tspan></text></g>
<g id="n_tp_site_id_lid" class="n"><rect x="983" y="1006" width="107" height="56"/><line x1="983" y1="1020" x2="1090" y2="1020"/><text class="t" x="1036.5" y="1016.2">MSC_TP_SITE_ID_LID</text><text class="f"><tspan x="1036.5" y="1029">SR_TP_SITE_ID</tspan><tspan x="1036.5" y="1038.6">SR_INSTANCE_ID</tspan><tspan x="1036.5" y="1048.1">PARTNER_TYPE</tspan><tspan x="1036.5" y="1057.7">TP_SITE_ID</tspan></text></g>
<g id="n_trading_partner_sites" class="n"><rect x="1211" y="1006" width="194" height="75"/><line x1="1211" y1="1019" x2="1405" y2="1019"/><text class="t" x="1308" y="1015.7">MSC_TRADING_PARTNER_SITES</text><text class="f"><tspan x="1308" y="1029">PARTNER_SITE_ID</tspan><tspan x="1308" y="1038.6">PARTY_ID</tspan></text></g>
<g id="n_cal_week_start_dates" class="n"><rect x="93" y="1027" width="146" height="65"/><line x1="93" y1="1041" x2="239" y2="1041"/><text class="t" x="166" y="1037.2">MSC_CAL_WEEK_START_DATES</text><text class="f"><tspan x="166" y="1050">CALENDAR_CODE</tspan><tspan x="166" y="1059.6">SR_INSTANCE_ID</tspan><tspan x="166" y="1069.1">EXCEPTION_SET_ID</tspan><tspan x="166" y="1078.7">SEQ_NUM</tspan><tspan x="166" y="1088.2">WEEK_START_DATE</tspan></text></g>
<g id="n_sr_receipt_org" class="n"><rect x="800" y="1076" width="154" height="70"/><line x1="800" y1="1089" x2="954" y2="1089"/><text class="t" x="877" y="1085.7">MSC_SR_RECEIPT_ORG</text><text class="f"><tspan x="877" y="1098">SOURCING_RULE_ID</tspan><tspan x="877" y="1107.6">SR_RECEIPT_ID</tspan><tspan x="877" y="1117.1">SR_INSTANCE_ID</tspan><tspan x="877" y="1126.7">RECEIPT_PARTNER_ID</tspan><tspan x="877" y="1136.2">RECEIPT_PARTNER_SITE_ID</tspan></text></g>
<g id="n_item_categories" class="n"><rect x="311" y="1092" width="165" height="54"/><line x1="311" y1="1105" x2="476" y2="1105"/><text class="t" x="393.5" y="1101.7">MSC_ITEM_CATEGORIES</text><text class="f"><tspan x="393.5" y="1114">ORGANISATION_ID</tspan><tspan x="393.5" y="1123.6">CATEGORY_SET_ID</tspan><tspan x="393.5" y="1136">INVENTORY_ITEM_ID</tspan></text></g>
<g id="n_sr_source_org" class="n"><rect x="1264" y="1099" width="155" height="69"/><line x1="1264" y1="1112" x2="1419" y2="1112"/><text class="t" x="1341.5" y="1108.7">MSC_SR_SOURCE_ORG</text><text class="f"><tspan x="1341.5" y="1121">SR_SOURCE_ID</tspan><tspan x="1341.5" y="1130.6">SR_RECEIPT_ID</tspan><tspan x="1341.5" y="1140.1">SR_INSTANCE_ID</tspan><tspan x="1341.5" y="1149.7">SOURCE_PARTNER_ID</tspan><tspan x="1341.5" y="1159.2">SOURCE_PARTNER_SITE_ID</tspan></text></g>
<g id="n_category_sets" class="n"><rect x="519" y="1119" width="164" height="33"/><line x1="519" y1="1131" x2="683" y2="1131"/><text class="t" x="601" y="1128.2">MSC_CATEGORY_SETS</text><text class="f"><tspan x="601" y="1144">CATEGORY_SET_ID</tspan></text></g>
<g id="n_category_set_id_lid" class="n"><rect x="83" y="1122" width="146" height="47"/><line x1="83" y1="1135" x2="229" y2="1135"/><text class="t" x="156" y="1131.7">MSC_CATEGORY_SET_ID_LID</text><text class="f"><tspan x="156" y="1145">SR_INSTANCE_ID</tspan><tspan x="156" y="1154.6">SR_CATEGORY_SET_ID</tspan><tspan x="156" y="1165">CATEGORY_SET_ID</tspan></text></g>
</svg>
